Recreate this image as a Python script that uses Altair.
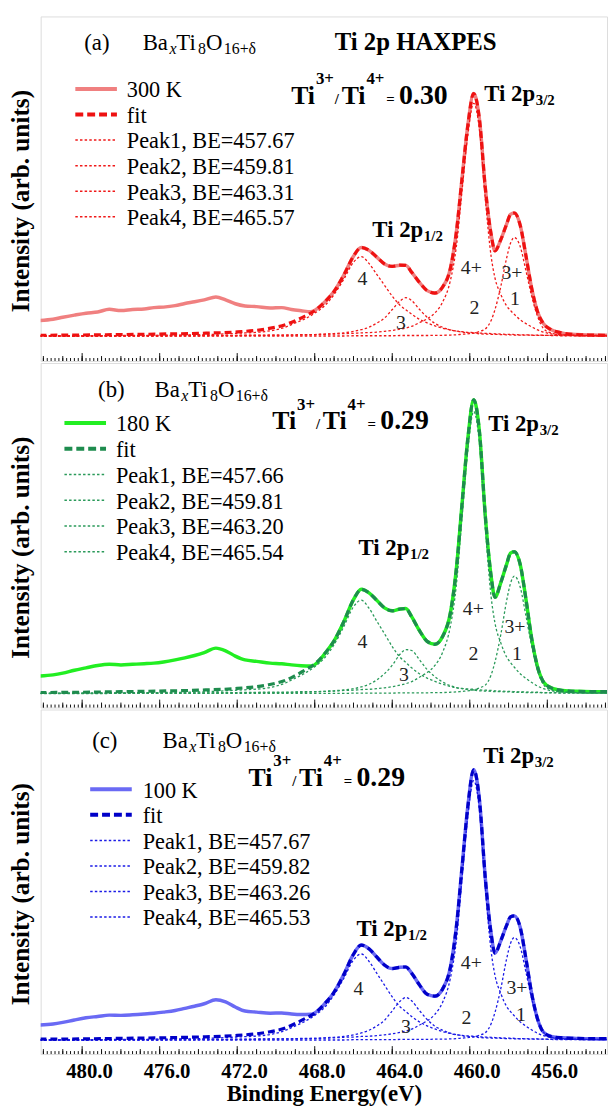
import altair as alt
import pandas as pd

SERIF = "Liberation Serif"
W, H = 572, 348

# ---------------- data (normalised intensity) ----------------
E_GRID = [482.2, 480.0, 478.0, 476.0, 474.0, 472.0, 470.5, 469.5, 469.0, 468.5,
          468.0, 467.5, 467.0, 466.5, 466.0, 465.6, 465.2, 464.8, 464.4, 464.0,
          463.6, 463.3, 463.0, 462.6, 462.2, 461.8, 461.4, 461.0, 460.7, 460.4,
          460.1, 459.8, 459.5, 459.2, 458.9, 458.7, 458.4, 458.1, 457.9, 457.7,
          457.4, 457.1, 456.8, 456.5, 456.2, 455.8, 455.2, 454.5, 453.7, 452.9]

DATA_LEFT_E = [482.2, 481.5, 481.0, 480.4, 479.8, 479.2, 478.6, 478.0, 477.4, 476.8,
               476.3, 475.8, 475.2, 474.7, 474.2, 473.7, 473.1, 472.6, 472.1, 471.6,
               471.0, 470.3, 469.7, 469.2, 468.7, 468.2, 467.8]

# panel (a) 300 K
DATA_LEFT_A = [0.065, 0.070, 0.078, 0.087, 0.095, 0.100, 0.111, 0.106, 0.110, 0.112,
               0.118, 0.120, 0.126, 0.135, 0.142, 0.150, 0.162, 0.150, 0.134, 0.125,
               0.122, 0.116, 0.118, 0.110, 0.105, 0.101, 0.118]
FIT_A = [0.004, 0.005, 0.007, 0.009, 0.012, 0.018, 0.030, 0.048, 0.064, 0.083,
         0.105, 0.140, 0.185, 0.252, 0.330, 0.366, 0.354, 0.326, 0.298, 0.288,
         0.293, 0.292, 0.264, 0.222, 0.188, 0.178, 0.203, 0.280, 0.425, 0.650,
         0.870, 1.000, 0.893, 0.612, 0.420, 0.352, 0.398, 0.462, 0.502, 0.508,
         0.458, 0.330, 0.195, 0.100, 0.052, 0.027, 0.013, 0.007, 0.005, 0.004]
PEAK1_A = [0.000, 0.000, 0.001, 0.001, 0.001, 0.001, 0.001, 0.001, 0.001, 0.001,
           0.001, 0.001, 0.001, 0.001, 0.002, 0.002, 0.002, 0.002, 0.002, 0.002,
           0.003, 0.003, 0.003, 0.003, 0.003, 0.004, 0.004, 0.005, 0.006, 0.008,
           0.010, 0.013, 0.020, 0.030, 0.065, 0.110, 0.205, 0.322, 0.383, 0.407,
           0.370, 0.269, 0.163, 0.081, 0.032, 0.013, 0.006, 0.004, 0.003, 0.003]
PEAK2_A = [0.002, 0.002, 0.002, 0.003, 0.003, 0.004, 0.005, 0.005, 0.006, 0.007,
           0.007, 0.008, 0.009, 0.011, 0.012, 0.014, 0.015, 0.017, 0.020, 0.024,
           0.029, 0.034, 0.041, 0.056, 0.072, 0.096, 0.141, 0.230, 0.365, 0.600,
           0.830, 0.960, 0.850, 0.566, 0.330, 0.240, 0.173, 0.125, 0.106, 0.090,
           0.068, 0.052, 0.038, 0.026, 0.017, 0.010, 0.006, 0.003, 0.003, 0.002]
PEAK3_A = [0.001, 0.001, 0.001, 0.001, 0.002, 0.003, 0.004, 0.005, 0.005, 0.006,
           0.007, 0.009, 0.011, 0.014, 0.020, 0.027, 0.037, 0.054, 0.075, 0.110,
           0.145, 0.159, 0.147, 0.111, 0.078, 0.053, 0.037, 0.026, 0.021, 0.017,
           0.014, 0.013, 0.010, 0.009, 0.008, 0.008, 0.007, 0.006, 0.006, 0.005,
           0.005, 0.005, 0.004, 0.004, 0.004, 0.003, 0.002, 0.002, 0.002, 0.002]
PEAK4_A = [0.001, 0.002, 0.003, 0.004, 0.006, 0.012, 0.020, 0.038, 0.055, 0.072,
           0.095, 0.125, 0.172, 0.235, 0.305, 0.328, 0.300, 0.255, 0.210, 0.165,
           0.128, 0.109, 0.091, 0.070, 0.055, 0.043, 0.033, 0.026, 0.021, 0.019,
           0.016, 0.015, 0.013, 0.012, 0.011, 0.010, 0.009, 0.008, 0.008, 0.007,
           0.006, 0.006, 0.005, 0.005, 0.004, 0.004, 0.003, 0.003, 0.002, 0.002]

# panel (b) 180 K
DATA_LEFT_B = [0.060, 0.064, 0.070, 0.080, 0.088, 0.096, 0.100, 0.098, 0.100, 0.102,
               0.104, 0.108, 0.115, 0.122, 0.130, 0.140, 0.155, 0.146, 0.128, 0.115,
               0.110, 0.104, 0.102, 0.098, 0.095, 0.094, 0.110]
FIT_B = [0.004, 0.005, 0.007, 0.009, 0.012, 0.018, 0.029, 0.046, 0.062, 0.080,
         0.101, 0.135, 0.180, 0.245, 0.320, 0.355, 0.343, 0.318, 0.292, 0.282,
         0.288, 0.290, 0.262, 0.215, 0.178, 0.168, 0.195, 0.275, 0.420, 0.645,
         0.868, 1.000, 0.890, 0.605, 0.400, 0.328, 0.378, 0.440, 0.478, 0.483,
         0.440, 0.320, 0.185, 0.090, 0.040, 0.020, 0.011, 0.008, 0.007, 0.007]
PEAK1_B = [0.000, 0.000, 0.001, 0.001, 0.001, 0.001, 0.001, 0.001, 0.001, 0.001,
           0.001, 0.001, 0.001, 0.001, 0.002, 0.002, 0.002, 0.002, 0.002, 0.002,
           0.003, 0.003, 0.003, 0.003, 0.003, 0.004, 0.004, 0.005, 0.006, 0.008,
           0.010, 0.013, 0.020, 0.029, 0.064, 0.108, 0.201, 0.316, 0.375, 0.400,
           0.363, 0.264, 0.160, 0.079, 0.031, 0.013, 0.006, 0.004, 0.003, 0.003]
PEAK2_B = [0.002, 0.002, 0.002, 0.003, 0.003, 0.004, 0.005, 0.005, 0.006, 0.007,
           0.007, 0.008, 0.009, 0.011, 0.012, 0.014, 0.015, 0.017, 0.020, 0.024,
           0.029, 0.034, 0.041, 0.056, 0.072, 0.096, 0.141, 0.230, 0.365, 0.600,
           0.830, 0.960, 0.850, 0.566, 0.330, 0.240, 0.173, 0.125, 0.106, 0.090,
           0.068, 0.052, 0.038, 0.026, 0.017, 0.010, 0.006, 0.003, 0.003, 0.002]
PEAK3_B = [0.001, 0.001, 0.001, 0.001, 0.002, 0.003, 0.004, 0.004, 0.005, 0.005,
           0.006, 0.008, 0.010, 0.013, 0.017, 0.023, 0.032, 0.047, 0.068, 0.097,
           0.134, 0.150, 0.147, 0.116, 0.082, 0.058, 0.040, 0.027, 0.021, 0.017,
           0.014, 0.012, 0.010, 0.009, 0.008, 0.007, 0.007, 0.006, 0.006, 0.005,
           0.005, 0.004, 0.004, 0.004, 0.003, 0.003, 0.002, 0.002, 0.002, 0.002]
PEAK4_B = [0.001, 0.002, 0.003, 0.004, 0.006, 0.012, 0.019, 0.037, 0.053, 0.070,
           0.092, 0.121, 0.167, 0.228, 0.296, 0.318, 0.291, 0.247, 0.204, 0.160,
           0.124, 0.106, 0.088, 0.068, 0.053, 0.042, 0.032, 0.025, 0.020, 0.018,
           0.016, 0.015, 0.013, 0.012, 0.011, 0.010, 0.009, 0.008, 0.008, 0.007,
           0.006, 0.006, 0.005, 0.005, 0.004, 0.004, 0.003, 0.003, 0.002, 0.002]

# panel (c) 100 K
DATA_LEFT_C = [0.056, 0.060, 0.066, 0.075, 0.083, 0.088, 0.093, 0.092, 0.094, 0.097,
               0.100, 0.104, 0.110, 0.118, 0.126, 0.135, 0.150, 0.142, 0.123, 0.108,
               0.104, 0.100, 0.101, 0.097, 0.095, 0.096, 0.112]
FIT_C = [0.004, 0.005, 0.007, 0.009, 0.012, 0.018, 0.029, 0.046, 0.062, 0.080,
         0.100, 0.134, 0.178, 0.243, 0.318, 0.352, 0.338, 0.308, 0.278, 0.265,
         0.270, 0.271, 0.248, 0.205, 0.170, 0.163, 0.190, 0.270, 0.415, 0.640,
         0.865, 1.000, 0.888, 0.600, 0.395, 0.322, 0.368, 0.425, 0.456, 0.460,
         0.418, 0.300, 0.170, 0.078, 0.030, 0.014, 0.009, 0.007, 0.006, 0.006]
PEAK1_C = [0.000, 0.000, 0.001, 0.001, 0.001, 0.001, 0.001, 0.001, 0.001, 0.001,
           0.001, 0.001, 0.001, 0.001, 0.002, 0.002, 0.002, 0.002, 0.002, 0.002,
           0.003, 0.003, 0.003, 0.003, 0.003, 0.004, 0.004, 0.005, 0.006, 0.008,
           0.010, 0.013, 0.019, 0.028, 0.061, 0.103, 0.191, 0.301, 0.358, 0.380,
           0.346, 0.251, 0.152, 0.076, 0.030, 0.012, 0.006, 0.004, 0.003, 0.003]
PEAK2_C = [0.002, 0.002, 0.002, 0.003, 0.003, 0.004, 0.005, 0.005, 0.006, 0.007,
           0.007, 0.008, 0.009, 0.011, 0.012, 0.014, 0.015, 0.017, 0.020, 0.024,
           0.029, 0.034, 0.041, 0.056, 0.072, 0.096, 0.141, 0.230, 0.365, 0.600,
           0.830, 0.960, 0.850, 0.566, 0.330, 0.240, 0.173, 0.125, 0.106, 0.090,
           0.068, 0.052, 0.038, 0.026, 0.017, 0.010, 0.006, 0.003, 0.003, 0.002]
PEAK3_C = [0.001, 0.001, 0.001, 0.001, 0.002, 0.003, 0.004, 0.005, 0.005, 0.006,
           0.007, 0.009, 0.011, 0.014, 0.020, 0.027, 0.037, 0.053, 0.074, 0.109,
           0.144, 0.158, 0.146, 0.110, 0.077, 0.052, 0.037, 0.026, 0.021, 0.017,
           0.014, 0.013, 0.010, 0.009, 0.008, 0.008, 0.007, 0.006, 0.006, 0.005,
           0.005, 0.005, 0.004, 0.004, 0.004, 0.003, 0.002, 0.002, 0.002, 0.002]
PEAK4_C = [0.001, 0.002, 0.003, 0.004, 0.006, 0.012, 0.019, 0.037, 0.053, 0.070,
           0.092, 0.121, 0.168, 0.229, 0.297, 0.319, 0.292, 0.248, 0.204, 0.160,
           0.124, 0.106, 0.088, 0.068, 0.053, 0.042, 0.032, 0.025, 0.020, 0.018,
           0.016, 0.015, 0.013, 0.012, 0.011, 0.010, 0.009, 0.008, 0.008, 0.007,
           0.006, 0.006, 0.005, 0.005, 0.004, 0.004, 0.003, 0.003, 0.002, 0.002]

TEMPS = ["300 K", "180 K", "100 K"]
PANEL_TAGS = ["(a)", "(b)", "(c)"]
RATIOS = ["0.30", "0.29", "0.29"]
BE_A = ["457.67", "459.81", "463.31", "465.57"]
BE_B = ["457.66", "459.81", "463.20", "465.54"]
BE_C = ["457.67", "459.82", "463.26", "465.53"]
PEAK_LABELS = ["4", "3", "4+", "2", "3+", "1"]

# axis tick positions / labels
MAJOR_TICKS = [456, 460, 464, 468, 472, 476, 480]
MEDIUM_TICKS = list(range(453, 483))
MINOR_TICKS = [round(453 + 0.2 * k, 1) for k in range(146)]

# ---------------- helpers ----------------
XS = alt.Scale(domain=[452.92, 482.14], reverse=True, nice=False, zero=False)
ONE = pd.DataFrame({"d": [0]})


def txt(s, x, y, size, weight="normal", style="normal", color="black",
        align="left", baseline="alphabetic"):
    return alt.Chart(ONE).mark_text(
        text=s, font=SERIF, fontSize=size, fontWeight=weight, fontStyle=style,
        color=color, align=align, baseline=baseline
    ).encode(x=alt.value(x), y=alt.value(y))


def seg(x1, x2, y, color, width, dash=None):
    kw = dict(color=color, strokeWidth=width)
    if dash:
        kw["strokeDash"] = dash
    return alt.Chart(ONE).mark_rule(**kw).encode(
        x=alt.value(x1), x2=alt.value(x2), y=alt.value(y))


def inner_ticks(vals, size):
    return alt.Chart(pd.DataFrame({"E": vals})).mark_rule(
        color="#111", strokeWidth=1).encode(
        x=alt.X("E:Q", scale=XS, axis=None),
        y=alt.value(H), y2=alt.value(H - size))


def panel(p):
    ys = alt.Scale(domain=p["ydom"], nice=False, zero=False)
    yaxis = alt.Axis(title="Intensity (arb. units)", labels=False, ticks=False,
                     domain=False, grid=False, titleFont=SERIF, titleFontSize=25.5,
                     titleFontWeight="bold", titleColor="black", titleX=-12,
                     titleY=186, titleBaseline="alphabetic", titleAngle=270,
                     titleAlign="center")
    if p["bottom"]:
        xlab = alt.Axis(orient="bottom", values=MAJOR_TICKS, format=".1f",
                        labelFont=SERIF, labelFontSize=21, labelFontWeight="bold",
                        labelColor="black", labelPadding=7, labelOffset=7, ticks=False,
                        domain=False, grid=False, title="Binding Energy(eV)",
                        titleFont=SERIF, titleFontSize=23, titleFontWeight="bold",
                        titleColor="black", titleBaseline="alphabetic", titleY=47)
    else:
        xlab = None

    data_df = pd.DataFrame({"E": DATA_LEFT_E + E_GRID[11:],
                            "I": p["data_left"] + p["fit"][11:]})

    def curve(vals, color, width, dash):
        return alt.Chart(pd.DataFrame({"E": E_GRID, "I": vals})).mark_line(
            color=color, strokeWidth=width, strokeDash=dash,
            interpolate="monotone", clip=True).encode(
            x=alt.X("E:Q", scale=XS, axis=None),
            y=alt.Y("I:Q", scale=ys, axis=None))

    c = p["colors"]
    layers = [
        alt.Chart(data_df).mark_line(color=c[0], strokeWidth=3.5,
                                     interpolate="monotone", clip=True).encode(
            x=alt.X("E:Q", scale=XS, axis=xlab),
            y=alt.Y("I:Q", scale=ys, axis=yaxis)),
    ]
    layers += [curve(pk, c[2], 1.3, [2.5, 2.2]) for pk in p["peaks"]]
    layers.append(curve(p["fit"], c[1], 3.2, [7, 4]))
    layers += [inner_ticks(MINOR_TICKS, 3), inner_ticks(MEDIUM_TICKS, 5),
               inner_ticks(MAJOR_TICKS, 8)]

    # panel tag + formula
    tx, ty = p["tag"]
    layers.append(txt(p["tag_text"], tx, ty, 23))
    fx, fy = p["formula"]
    layers += [
        txt("Ba", fx, fy, 23),
        txt("x", fx + 27, fy + 4, 16, style="italic"),
        txt("Ti", fx + 34, fy, 23),
        txt("8", fx + 56, fy + 4, 16),
        txt("O", fx + 64, fy, 23),
        txt("16+δ", fx + 82, fy + 4, 16),
    ]
    if p.get("title"):
        layers.append(txt("Ti 2p HAXPES", p["title"][0], p["title"][1], 25, weight="bold"))

    # Ti3+/Ti4+ ratio
    rx, ry = p["ratio"]
    layers += [
        txt("Ti", rx, ry, 26, weight="bold"),
        txt("3+", rx + 25, ry - 20, 17, weight="bold"),
        txt("/", rx + 44, ry, 15, weight="bold"),
        txt("Ti", rx + 51, ry, 26, weight="bold"),
        txt("4+", rx + 76, ry - 20, 17, weight="bold"),
        txt("=", rx + 96, ry, 15, weight="bold"),
        txt(p["ratio_text"], rx + 109, ry, 28, weight="bold"),
    ]
    for (lx, ly), sub in ((p["p32"], "3/2"), (p["p12"], "1/2")):
        layers += [txt("Ti 2p", lx, ly, 23, weight="bold"),
                   txt(sub, lx + 52, ly + 4, 15, weight="bold")]

    # legend
    lx1, lx2, ltx, ly0, ldy = p["legend"]
    rows = [(p["temp"], c[0], 4, None), ("fit", c[1], 4, [8, 4])]
    rows += [(f"Peak{k + 1}, BE={be}", c[2], 1.5, [2.5, 2.2]) for k, be in enumerate(p["be"])]
    for k, (label, col, w, dash) in enumerate(rows):
        yb = ly0 + k * ldy
        layers.append(seg(lx1, lx2, yb - 8.4, col, w, dash))
        layers.append(txt(label, ltx, yb, 22.5))

    # peak labels
    for lab, (px, py) in zip(PEAK_LABELS, p["plabels"]):
        layers.append(txt(lab, px, py, 20, color="#222", align="center", baseline="middle"))

    return alt.layer(*layers).resolve_axis(x="independent", y="independent").properties(
        width=W, height=H)


PANELS = [
    dict(ydom=[-0.102, 1.318], bottom=False, data_left=DATA_LEFT_A, fit=FIT_A,
         peaks=[PEAK1_A, PEAK2_A, PEAK3_A, PEAK4_A],
         colors=["#F08080", "#EE1111", "#F01818"], tag_text=PANEL_TAGS[0], tag=(44, 34),
         formula=(103, 34), title=(297, 34), ratio=(253, 88), ratio_text=RATIOS[0],
         p32=(448, 85), p12=(335, 223), legend=(35, 77, 87, 81.7, 25.8),
         temp=TEMPS[0], be=BE_A,
         plabels=[(325, 265), (364, 310), (435, 254), (438, 295), (476, 259), (479, 285)]),
    dict(ydom=[-0.047, 1.125], bottom=False, data_left=DATA_LEFT_B, fit=FIT_B,
         peaks=[PEAK1_B, PEAK2_B, PEAK3_B, PEAK4_B],
         colors=["#22EE22", "#1E8C4E", "#2A9A5A"], tag_text=PANEL_TAGS[1], tag=(58, 34),
         formula=(115, 34), ratio=(234, 67), ratio_text=RATIOS[1],
         p32=(452, 69), p12=(321, 194), legend=(24, 66, 76, 69, 26),
         temp=TEMPS[1], be=BE_B,
         plabels=[(325, 282), (367, 315), (437, 249), (437, 294), (479, 267), (481, 294)]),
    dict(ydom=[-0.051, 1.223], bottom=True, data_left=DATA_LEFT_C, fit=FIT_C,
         peaks=[PEAK1_C, PEAK2_C, PEAK3_C, PEAK4_C],
         colors=["#6A6AF4", "#0000C8", "#1A1AE6"], tag_text=PANEL_TAGS[2], tag=(52, 39),
         formula=(123, 39), ratio=(210, 77), ratio_text=RATIOS[2],
         p32=(447, 54), p12=(319, 229), legend=(50, 92, 103, 89, 25.8),
         temp=TEMPS[2], be=BE_C,
         plabels=[(321, 282), (369, 321), (435, 256), (430, 312), (481, 281), (485, 309)]),
]

chart = alt.vconcat(*[panel(p) for p in PANELS], spacing=0).properties(
    padding={"left": 0, "top": 2, "right": 0, "bottom": 0}
).configure_view(stroke="#111", strokeWidth=1.6).configure(background="white")

chart.save("out.html", embed_options={"renderer": "svg", "actions": False})
